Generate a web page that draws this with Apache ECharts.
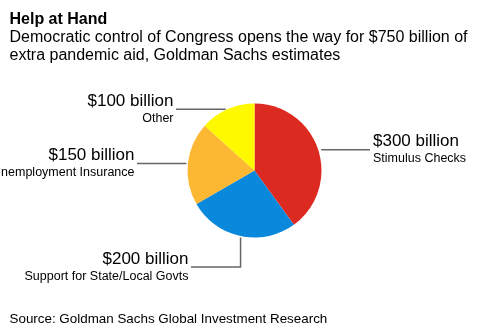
<!DOCTYPE html>
<html>
<head>
<meta charset="utf-8">
<script src="https://cdn.jsdelivr.net/npm/echarts@6/dist/echarts.min.js"></script>
<style>
  html, body { margin: 0; padding: 0; background: #fff; }
  #chart { width: 485px; height: 334px; }
</style>
</head>
<body>
<div id="chart"></div>
<script>
// Estimated extra pandemic aid, $ billions
const categories = ['Stimulus Checks', 'Support for State/Local Govts', 'Unemployment Insurance', 'Other'];
const values = [300, 200, 150, 100];
const sliceColors = ['#DD2A21', '#0A88DB', '#FDB833', '#FFF900'];

// Callout placement for each slice: text anchor, block top, alignment, leader shape
const callouts = [
  { x: 373, y: 131.5, align: 'left', leg: 'h' },
  { x: 188.5, y: 250, align: 'right', leg: 'v' },
  { x: 134.5, y: 146, align: 'right', leg: 'h' },
  { x: 173.5, y: 92, align: 'right', leg: 'h' }
];

const FONT = '"Liberation Sans", Arial, Helvetica, sans-serif';

const chart = echarts.init(document.getElementById('chart'), null, { renderer: 'canvas' });

chart.setOption({
  animation: false,
  backgroundColor: '#ffffff',
  title: [
    {
      text: 'Help at Hand',
      left: 9.5, top: 10.5, padding: 0,
      textStyle: { fontFamily: FONT, fontSize: 16, fontWeight: 'bold', color: '#000', lineHeight: 18 }
    },
    {
      text: 'Democratic control of Congress opens the way for $750 billion of\nextra pandemic aid, Goldman Sachs estimates',
      left: 9.5, top: 28.5, padding: 0,
      textStyle: { fontFamily: FONT, fontSize: 16, fontWeight: 'normal', color: '#000', lineHeight: 18 }
    },
    {
      text: 'Source: Goldman Sachs Global Investment Research',
      left: 9.5, top: 312, padding: 0,
      textStyle: { fontFamily: FONT, fontSize: 13.4, fontWeight: 'normal', color: '#000', lineHeight: 15 }
    }
  ],
  series: [{
    type: 'pie',
    center: [254.5, 170.5],
    radius: 67,
    startAngle: 90,
    clockwise: true,
    silent: true,
    data: categories.map((name, i) => ({
      name: name,
      value: values[i],
      itemStyle: { color: sliceColors[i] },
      label: { align: callouts[i].align }
    })),
    itemStyle: { borderWidth: 0 },
    label: {
      show: true,
      position: 'outside',
      overflow: 'none',
      formatter: p => '{v|$' + p.value + ' billion}\n{n|' + p.name + '}',
      rich: {
        v: { fontFamily: FONT, fontSize: 17, lineHeight: 19, color: '#000' },
        n: { fontFamily: FONT, fontSize: 12.5, lineHeight: 16, color: '#000' }
      }
    },
    labelLine: {
      show: true,
      lineStyle: { color: '#666666', width: 1.5 }
    },
    labelLayout: function (params) {
      const c = callouts[params.dataIndex];
      const start = params.labelLinePoints[0];
      const sx = start[0], sy = start[1];
      const ex = c.align === 'left' ? c.x - 3 : c.x + 2.5;
      let pts;
      if (c.leg === 'v') {
        const ly = c.y + 17;
        pts = [[sx, sy + 1.5], [sx, ly], [ex, ly]];
      } else {
        pts = [[sx + (c.align === 'left' ? 3 : -1.5), sy], [(sx + ex) / 2, sy], [ex, sy]];
      }
      return {
        x: c.x,
        y: c.y,
        align: c.align,
        verticalAlign: 'top',
        labelLinePoints: pts
      };
    }
  }]
});
</script>
</body>
</html>
